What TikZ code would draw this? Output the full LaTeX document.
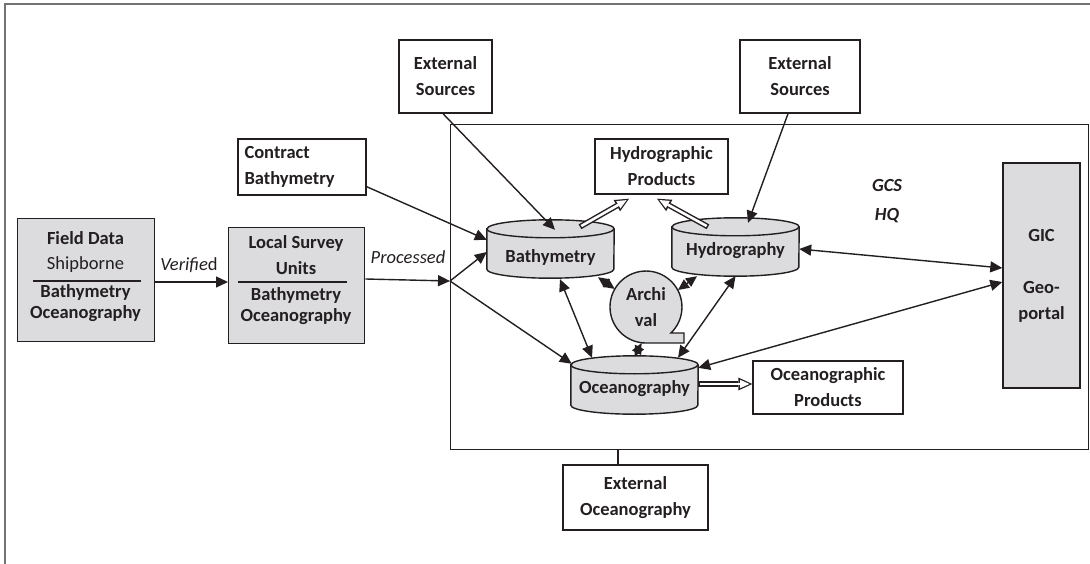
\documentclass[tikz,border=0pt]{standalone}
\usepackage{fontspec}
\setmainfont{Carlito}
\usetikzlibrary{arrows.meta,calc}
\definecolor{lc}{HTML}{231F20}
\definecolor{fillg}{HTML}{DCDCDE}
\newcommand{\hollowarrow}[2]{%
  \draw[line width=5.5pt, draw=lc, -{Triangle[length=14pt,width=13pt,line width=0pt]}] #1 -- #2;
  \draw[line width=2.6pt, draw=white, shorten <=1.5pt, shorten >=2.8pt, -{Triangle[length=9.5pt,width=8.5pt,line width=0pt]}] #1 -- #2;}
\newcommand{\cylshape}[1]{%
  \filldraw[fill=fillg, draw=lc, line width=1.4pt] ([yshift=-9pt]#1.north west) -- ([yshift=9pt]#1.south west)
    arc[start angle=180, end angle=0, x radius=63.5, y radius=9] -- ([yshift=-9pt]#1.north east)
    arc[start angle=0, end angle=-180, x radius=63.5, y radius=9] -- cycle;
  \draw[lc, line width=1.4pt] ([yshift=-9pt]#1.north west) arc[start angle=180, end angle=0, x radius=63.5, y radius=9];}
\begin{document}
\begin{tikzpicture}[x=1pt,y=-1pt,
  every node/.style={font=\fontsize{18.5}{26}\selectfont\bfseries, text=lc, inner sep=0pt},
  box/.style={draw=lc, line width=1.4pt, align=center},
  gbox/.style={box, fill=fillg},
  cylbox/.style={minimum width=127pt, minimum height=58pt},
  conn/.style={draw=lc, line width=1.4pt, -{Triangle[length=12pt,width=11pt]}},
  bconn/.style={draw=lc, line width=1.4pt, {Triangle[length=12pt,width=11pt]}-{Triangle[length=12pt,width=11pt]}},
  dconn/.style={draw=lc, line width=1.4pt, {Triangle[length=11pt,width=10pt]}-{Triangle[length=11pt,width=10pt]}},
  plain/.style={draw=lc, line width=1.4pt},
  lbl/.style={font=\fontsize{18.5}{26}\selectfont\itshape},
  reg/.style={font=\fontsize{18.5}{26}\selectfont},
]
\useasboundingbox (0,0) rectangle (1090,564);
% outer frame
\draw[black!55, line width=1.8pt] (5,564) -- (5,4) -- (1090,4);

% GCS HQ box
\node[box, minimum width=638pt, minimum height=325pt, anchor=north west] (gcs) at (450,124) {};
\node[font=\fontsize{18.5}{26}\selectfont\bfseries\itshape, align=center] (gcsl) at (887,201) {GCS\\[3pt]HQ};

% Field data
\node[gbox, minimum width=137pt, minimum height=123pt, anchor=north west] (fd) at (17,218) {};
\node (fdt1) at (85.5,238) {Field Data};
\node[reg] (fdt2) at (85.5,265) {Shipborne};
\draw[plain] (33,281) -- (141,281);
\node (fdt3) at (85.5,292) {Bathymetry};
\node (fdt4) at (85.5,314) {Oceanography};

% Local survey units
\node[gbox, minimum width=136pt, minimum height=116pt, anchor=north west] (lsu) at (228,227) {};
\node (lst1) at (296,243) {Local Survey};
\node (lst2) at (296,268) {Units};
\draw[plain] (238,282) -- (347,282);
\node (lst3) at (296,295) {Bathymetry};
\node (lst4) at (296,317) {Oceanography};

% other boxes
\node[box, minimum width=128pt, minimum height=56pt, align=left, text width=115pt] (contract) at (302,167) {Contract\\Bathymetry};
\node[box, minimum width=93pt, minimum height=73pt] (extL) at (445.5,76.5) {External\\Sources};
\node[box, minimum width=120pt, minimum height=73pt] (extR) at (800,76.5) {External\\Sources};
\node[box, minimum width=133pt, minimum height=55pt] (hprod) at (661.5,166.5) {Hydrographic\\Products};
\node[gbox, minimum width=77pt, minimum height=225pt] (gic) at (1041.5,275.5) {GIC\\[26pt]Geo-\\portal};
\node[box, minimum width=150pt, minimum height=53pt] (oprod) at (828,387.5) {Oceanographic\\Products};
\node[box, minimum width=145pt, minimum height=65pt] (extO) at (635.5,497.5) {External\\Oceanography};

% cylinders
\node[cylbox] (bath) at (550.5,249) {};
\node[cylbox] (hydro) at (735.5,247) {};
\node[cylbox] (ocean) at (634.5,385) {};
\cylshape{bath}
\cylshape{hydro}
\cylshape{ocean}
\node (batht) at ([yshift=-8pt]bath.center) {Bathymetry};
\node (hydrot) at ([yshift=-4pt]hydro.center) {Hydrography};
\node (oceant) at ([yshift=-4pt]ocean.center) {Oceanography};

% archival
\node[circle, minimum size=72pt, align=center] (arch) at (646,307) {};
\filldraw[fill=fillg, draw=lc, line width=1.4pt] ([shift={(24.9pt,-26pt)}]arch.center)
  arc[start angle=46.2, end angle=-270, radius=36] -- ++(38,0) -- ++(0,-10) -- cycle;
\node[align=center] (archt) at (arch.center) {Archi\\val};

% labels
\node[lbl] (ver) at (189,265) {Verifie\textup{d}};
\node[lbl] (proc) at (408,257) {Processed};

% connectors
\coordinate (p) at (450,281);
\draw[conn] (fd.east |- 0,282) -- (lsu.west |- 0,282);
\draw[conn] (lsu.east |- 0,279) -- (p);
\draw[conn] (p) -- ([yshift=-3pt]bath.west);
\draw[conn] (p) -- ([xshift=1pt,yshift=-8pt]ocean.north west);
\draw[conn] ([yshift=9pt]contract.south east) -- ([yshift=-20pt]bath.north west);
\draw[conn] ([xshift=-2.5pt]extL.south) -- ([xshift=4.5pt,yshift=-10pt]bath.north);
\draw[conn] ([xshift=-12pt]extR.south) -- ([xshift=12.5pt,yshift=-5pt]hydro.north);

\hollowarrow{([xshift=29.5pt,yshift=-7pt]bath.north)}{([xshift=-32.5pt,yshift=-4pt]hprod.south)}
\hollowarrow{([xshift=-27.5pt,yshift=-9pt]hydro.north)}{([xshift=-4.5pt,yshift=-4pt]hprod.south)}
\coordinate (oe) at ([yshift=1pt]ocean.east);
\hollowarrow{(oe)}{(oe -| oprod.west)}

\draw[bconn] ([yshift=-2pt]hydro.east) -- ([yshift=7.5pt]gic.west);
\draw[bconn] ([yshift=-12pt]ocean.north east) -- ([yshift=-6.5pt]gic.west);
\draw[bconn] ([xshift=9.5pt,yshift=-1pt]bath.south) -- ([xshift=-42.5pt,yshift=-2pt]ocean.north);
\draw[bconn] (hydro.south) -- ([xshift=43.5pt,yshift=-2pt]ocean.north);
\draw[dconn] ([xshift=47.5pt,yshift=1pt]bath.south) -- (arch.150);
\draw[dconn] ([xshift=-38.5pt]hydro.south) -- (arch.28);
\draw[dconn] (arch.263) -- ([yshift=-1pt]ocean.north);

\draw[plain] ([xshift=-17.5pt]extO.north) -- ([xshift=-17.5pt]extO.north |- gcs.south);
\end{tikzpicture}
\end{document}
